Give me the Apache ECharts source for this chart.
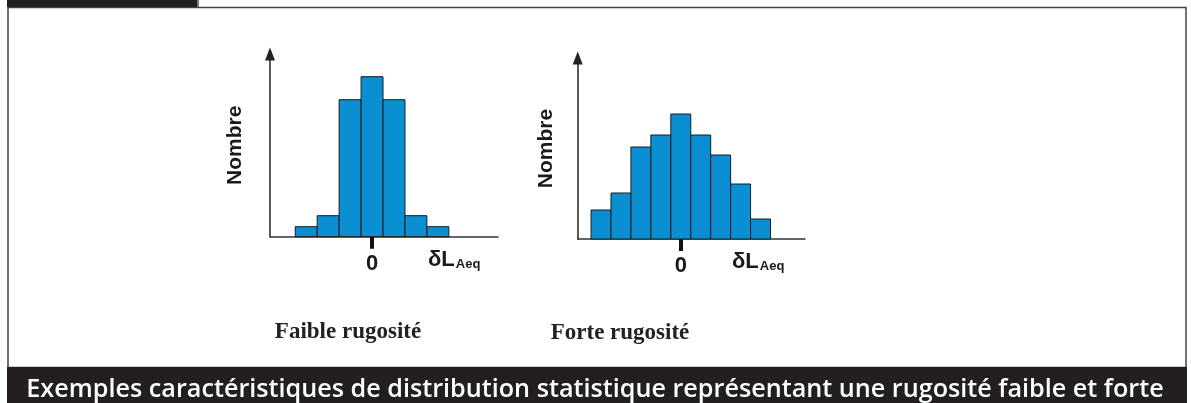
<!DOCTYPE html>
<html>
<head>
<meta charset="utf-8">
<script src="https://cdn.jsdelivr.net/npm/echarts@6/dist/echarts.min.js"></script>
<style>
html,body{margin:0;padding:0;background:#fff;}
#chart{width:1191px;height:403px;}
</style>
</head>
<body>
<div id="chart"></div>
<script>
// ---- data ----
const lowBins = [-3, -2, -1, 0, 1, 2, 3];
const lowCounts = [1, 2.1, 13.7, 16, 13.7, 2.1, 1];
const highBins = [-4, -3, -2, -1, 0, 1, 2, 3, 4];
const highCounts = [2.9, 4.6, 9.2, 10.4, 12.5, 10.4, 8.4, 5.5, 2.0];
const xTickValues = [0];
const xTickLabels = ['0'];
const yAxisName = 'Nombre';
const panelTitles = ['Faible rugosité', 'Forte rugosité'];
const caption = 'Exemples caractéristiques de distribution statistique représentant une rugosité faible et forte';

const barColor = '#0b8fd3';

function histItem(params, api) {
  const x = api.value(0), y = api.value(1);
  const p0 = api.coord([x - 0.5, y]);
  const p1 = api.coord([x + 0.5, 0]);
  return {
    type: 'rect',
    shape: { x: p0[0], y: p0[1], width: p1[0] - p0[0], height: p1[1] - p0[1] },
    style: { fill: barColor, stroke: '#1a1a1a', lineWidth: 1 }
  };
}

function makeX(idx, min, max) {
  return {
    type: 'value', gridIndex: idx, min: min, max: max,
    splitLine: { show: false },
    axisLine: { show: true, onZero: false, lineStyle: { color: '#333', width: 1.5 } },
    axisTick: { show: true, customValues: xTickValues, length: 12, lineStyle: { color: '#111', width: 4 } },
    axisLabel: {
      show: true, customValues: xTickValues, margin: 16,
      formatter: v => xTickLabels[xTickValues.indexOf(v)] ?? '',
      fontFamily: 'Liberation Sans', fontWeight: 'bold', fontSize: 22, color: '#1a1a1a'
    }
  };
}
function makeY(idx, max, gap) {
  return {
    type: 'value', gridIndex: idx, min: 0, max: max,
    splitLine: { show: false },
    axisTick: { show: false }, axisLabel: { show: false },
    axisLine: { show: true, onZero: false, symbol: ['none', 'triangle'], symbolSize: [10, 13], lineStyle: { color: '#222', width: 1.5 } },
    name: yAxisName, nameLocation: 'middle', nameRotate: 90, nameGap: gap,
    nameTextStyle: { fontFamily: 'Liberation Sans', fontWeight: 'bold', fontSize: 21, color: '#1a1a1a' }
  };
}

const chart = echarts.init(document.getElementById('chart'), null, { renderer: 'canvas' });

const dLabel = (x, y) => ({
  type: 'text', left: x, top: y, z: 10,
  style: {
    text: '{a|δL}{b|Aeq}',
    rich: {
      a: { fontFamily: 'Liberation Sans', fontWeight: 'bold', fontSize: 22, fill: '#1a1a1a' },
      b: { fontFamily: 'Liberation Sans', fontWeight: 'bold', fontSize: 13, fill: '#1a1a1a', padding: [8, 0, 0, 1] }
    }
  }
});

chart.setOption({
  animation: false,
  backgroundColor: '#fff',
  grid: [
    { left: 270, top: 54, width: 228, height: 182.7 },
    { left: 577.7, top: 58, width: 227.3, height: 181 }
  ],
  xAxis: [makeX(0, -4.65, 5.74), makeX(1, -5.17, 6.23)],
  yAxis: [makeY(0, 18.27, 24), makeY(1, 18.1, 21)],
  series: [
    { type: 'custom', xAxisIndex: 0, yAxisIndex: 0, renderItem: histItem, encode: { x: 0, y: 1 },
      data: lowBins.map((b, i) => [b, lowCounts[i]]) },
    { type: 'custom', xAxisIndex: 1, yAxisIndex: 1, renderItem: histItem, encode: { x: 0, y: 1 },
      data: highBins.map((b, i) => [b, highCounts[i]]) }
  ],
  graphic: [
    // frame
    { type: 'rect', shape: { x: 8, y: 7.5, width: 1178, height: 360 }, style: { fill: 'none', stroke: '#444', lineWidth: 1.5 }, z: 1 },
    // top tab
    { type: 'rect', shape: { x: 7, y: 0, width: 190, height: 7 }, style: { fill: '#231f20' }, z: 2 },
    { type: 'rect', shape: { x: 197, y: 0, width: 2, height: 7 }, style: { fill: '#777' }, z: 2 },
    // caption band
    { type: 'rect', shape: { x: 7, y: 367, width: 1180, height: 36 }, style: { fill: '#231f20' }, z: 2 },
    { type: 'text', x: 595, y: 390, z: 3,
      style: { text: caption, fill: '#fff', fontFamily: 'Open Sans', fontWeight: 600, fontSize: 25.2, textAlign: 'center', textVerticalAlign: 'middle' } },
    // panel titles
    { type: 'text', x: 348, y: 332, z: 3,
      style: { text: panelTitles[0], fill: '#222', fontFamily: 'Liberation Serif', fontWeight: 'bold', fontSize: 23, textAlign: 'center', textVerticalAlign: 'middle' } },
    { type: 'text', x: 620, y: 333, z: 3,
      style: { text: panelTitles[1], fill: '#222', fontFamily: 'Liberation Serif', fontWeight: 'bold', fontSize: 23, textAlign: 'center', textVerticalAlign: 'middle' } },
    dLabel(428, 249),
    dLabel(732, 251)
  ]
});
</script>
</body>
</html>
